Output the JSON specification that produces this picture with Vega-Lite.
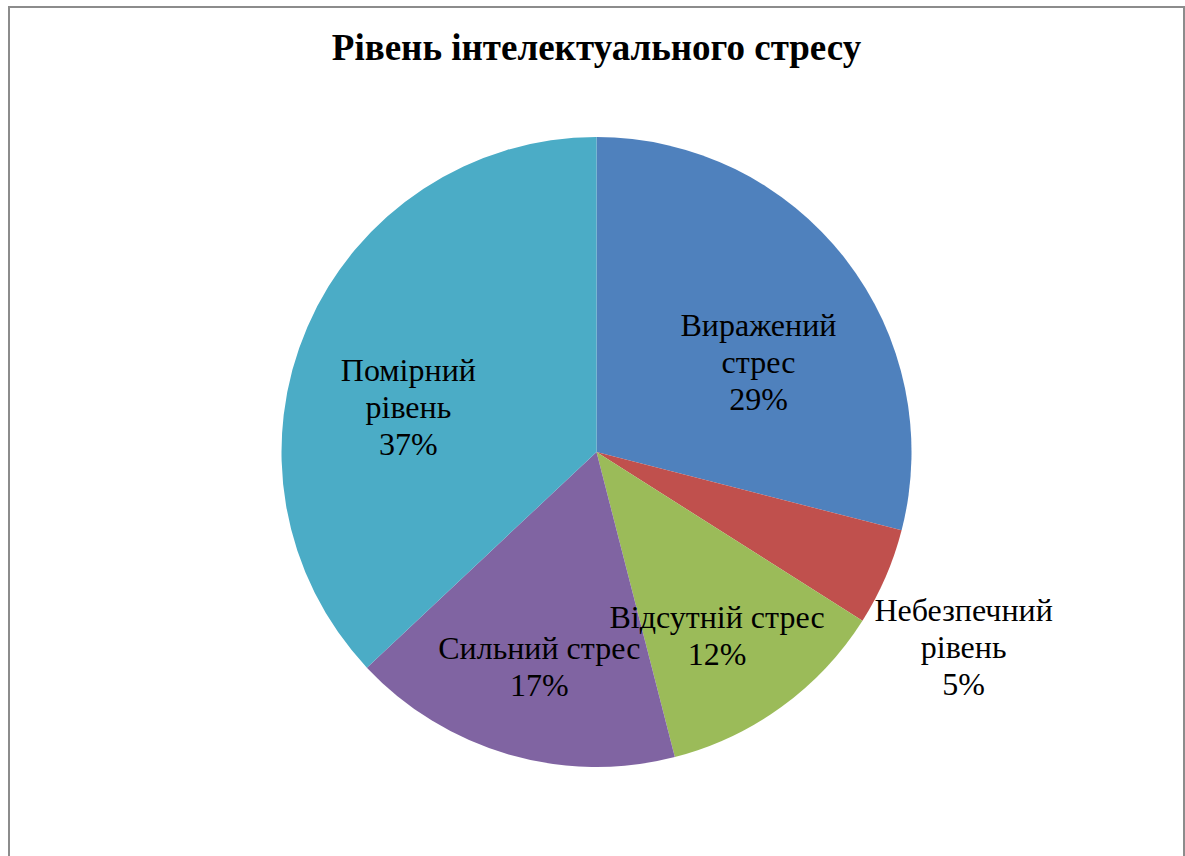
{
  "$schema": "https://vega.github.io/schema/vega-lite/v6.json",
  "width": 1175,
  "height": 890,
  "padding": {"left": 9, "top": 7, "right": 1, "bottom": 0},
  "autosize": {"type": "none"},
  "background": "white",
  "title": {
    "text": "Рівень інтелектуального стресу",
    "font": "Liberation Serif",
    "fontSize": 37,
    "fontWeight": "bold",
    "color": "#000000",
    "anchor": "middle",
    "orient": "top",
    "offset": -62
  },
  "data": {
    "values": [
      {"category": "Виражений стрес", "value": 29, "order": 1, "label": ["Виражений", "стрес", "29%"]},
      {"category": "Небезпечний рівень", "value": 5, "order": 2, "label": ["Небезпечний", "рівень", "5%"]},
      {"category": "Відсутній стрес", "value": 12, "order": 3, "label": ["Відсутній стрес", "12%"]},
      {"category": "Сильний стрес", "value": 17, "order": 4, "label": ["Сильний стрес", "17%"]},
      {"category": "Помірний рівень", "value": 37, "order": 5, "label": ["Помірний", "рівень", "37%"]}
    ]
  },
  "layer": [
    {
      "data": {"values": [{"frame": 1}]},
      "mark": {"type": "rect", "fill": null, "stroke": "#8c8c8c", "strokeWidth": 2},
      "encoding": {}
    },
    {
      "mark": {"type": "arc", "outerRadius": 315},
      "encoding": {
        "theta": {"field": "value", "type": "quantitative", "stack": true},
        "order": {"field": "order", "type": "quantitative"},
        "color": {
          "field": "category",
          "type": "nominal",
          "sort": ["Виражений стрес", "Небезпечний рівень", "Відсутній стрес", "Сильний стрес", "Помірний рівень"],
          "scale": {"range": ["#4F81BD", "#C0504D", "#9BBB59", "#8064A2", "#4BACC6"]},
          "legend": null
        }
      }
    },
    {
      "mark": {"type": "text", "radius": 205, "font": "Liberation Serif", "fontSize": 32, "lineHeight": 37, "color": "#000000", "align": "center", "baseline": "middle"},
      "encoding": {
        "theta": {"field": "value", "type": "quantitative", "stack": true},
        "order": {"field": "order", "type": "quantitative"},
        "text": {"condition": {"test": "datum.value > 6", "field": "label"}, "value": ""}
      }
    },
    {
      "mark": {"type": "text", "radius": 400, "font": "Liberation Serif", "fontSize": 32, "lineHeight": 37, "color": "#000000", "align": "center", "baseline": "middle"},
      "encoding": {
        "theta": {"field": "value", "type": "quantitative", "stack": true},
        "order": {"field": "order", "type": "quantitative"},
        "text": {"condition": {"test": "datum.value <= 6", "field": "label"}, "value": ""}
      }
    }
  ]
}
